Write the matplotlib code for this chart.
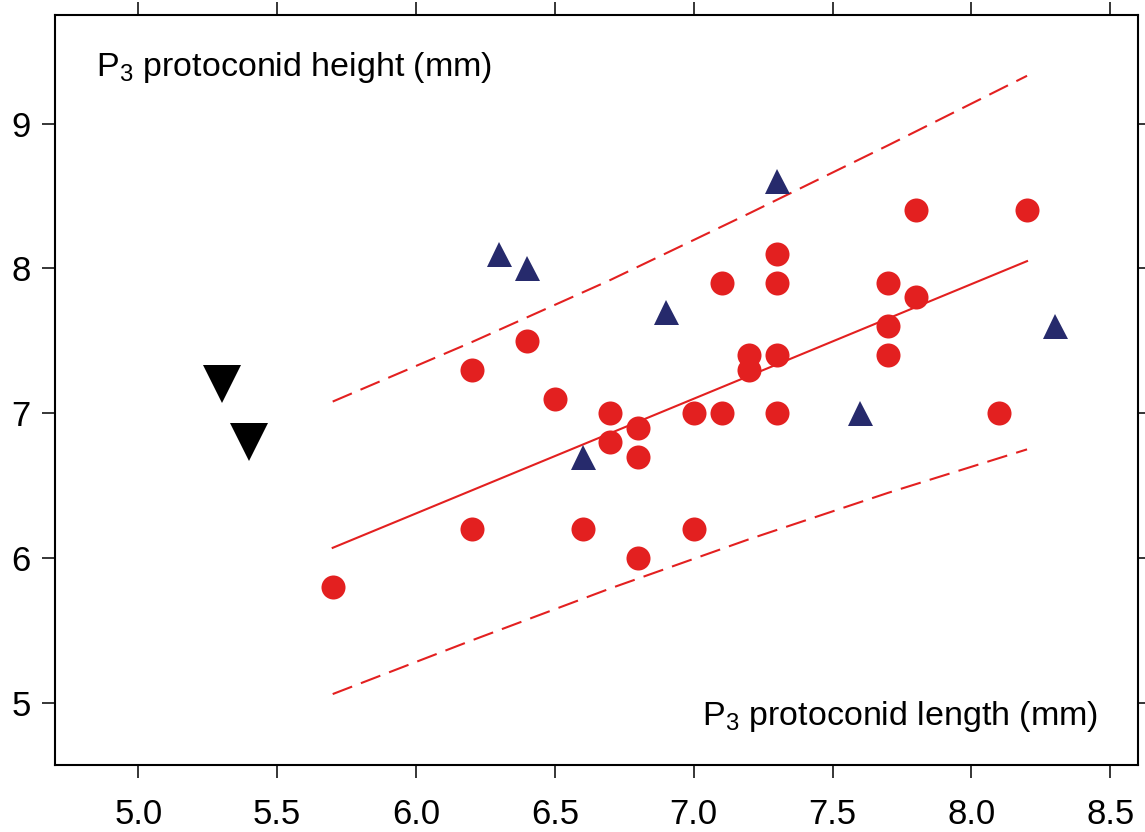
import numpy as np
import matplotlib
matplotlib.use("Agg")
import matplotlib.pyplot as plt

plt.rcParams['font.family'] = ['Liberation Sans', 'DejaVu Sans']
plt.rcParams['mathtext.fontset'] = 'custom'
plt.rcParams['mathtext.rm'] = 'Liberation Sans'

# red circles
red_x = [5.7, 6.2, 6.2, 6.4, 6.5, 6.6, 6.7, 6.7, 6.8, 6.8, 6.8, 7.0, 7.0, 7.1,
         7.1, 7.2, 7.2, 7.3, 7.3, 7.3, 7.3, 7.7, 7.7, 7.7, 7.8, 7.8, 8.1, 8.2]
red_y = [5.8, 7.3, 6.2, 7.5, 7.1, 6.2, 7.0, 6.8, 6.9, 6.7, 6.0, 7.0, 6.2, 7.9,
         7.0, 7.4, 7.3, 8.1, 7.9, 7.4, 7.0, 7.9, 7.6, 7.4, 8.4, 7.8, 7.0, 8.4]

# blue triangles
blue_x = [6.3, 6.4, 6.6, 6.9, 7.3, 7.6, 8.3]
blue_y = [8.1, 8.0, 6.7, 7.7, 8.6, 7.0, 7.6]

# black down triangles
blk_x = [5.3, 5.4]
blk_y = [7.2, 6.8]

# regression line and band
fit_x = [5.7, 8.2]
fit_y = [6.07, 8.05]
band_x = [5.7, 6.2, 6.7, 7.2, 7.7, 8.2]
band_hi = [7.08, 7.49, 7.92, 8.38, 8.85, 9.33]
band_lo = [5.06, 5.43, 5.79, 6.13, 6.45, 6.75]

red = '#e32020'
navy = '#262a6c'

fig = plt.figure(figsize=(11.45, 8.32), dpi=100)
ax = fig.add_axes([0.048, 0.0805, 0.946, 0.9015])

ax.plot(fit_x, fit_y, color=red, lw=1.5)
ax.plot(band_x, band_hi, color=red, lw=1.5, ls=(0, (10, 4.5)))
ax.plot(band_x, band_lo, color=red, lw=1.5, ls=(0, (10, 4.5)))

ax.plot(red_x, red_y, 'o', color=red, ms=17.3, mew=0, ls='none')
ax.plot(blue_x, blue_y, '^', color=navy, ms=18, mew=0, ls='none')
ax.plot(blk_x, blk_y, 'v', color='black', ms=27, mew=0, ls='none')

ax.set_xlim(4.7, 8.6)
ax.set_ylim(4.57, 9.75)
ax.set_xticks([5.0, 5.5, 6.0, 6.5, 7.0, 7.5, 8.0, 8.5])
ax.set_xticklabels(['5.0', '5.5', '6.0', '6.5', '7.0', '7.5', '8.0', '8.5'])
ax.set_yticks([5, 6, 7, 8, 9])

ax.tick_params(axis='x', direction='out', length=9.5, width=1.1, labelsize=25,
               top=True, bottom=True, pad=14)
ax.tick_params(axis='y', direction='out', length=9.5, width=1.1, labelsize=25,
               left=True, right=True, pad=8)
for s in ax.spines.values():
    s.set_linewidth(1.5)

ax.text(0.038, 0.9187, r'P$_\mathregular{3}$ protoconid height (mm)', transform=ax.transAxes,
        fontsize=24.5, ha='left', va='baseline')
ax.text(0.963, 0.0533, r'P$_\mathregular{3}$ protoconid length (mm)', transform=ax.transAxes,
        fontsize=24.5, ha='right', va='baseline')

fig.savefig('out.png', dpi=100)
